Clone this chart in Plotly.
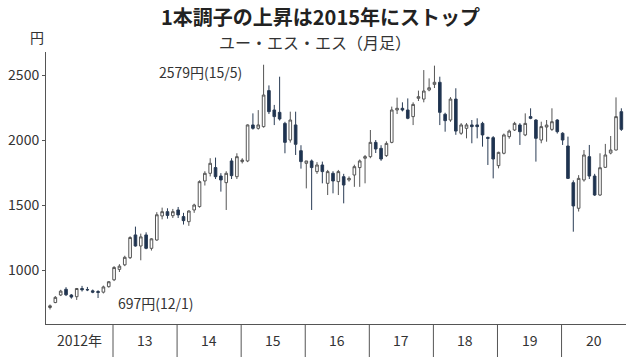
import plotly.graph_objects as go

# Monthly candles, Jan 2012 .. Dec 2020 (index 0 = 2012/1)
opens = [712, 750, 808, 852, 808, 795, 858, 850, 840, 835, 830, 872,
         925, 1005, 1040, 1095, 1270, 1185, 1270, 1167, 1231, 1416, 1449, 1418,
         1462, 1411, 1372, 1462, 1488, 1685, 1744, 1788, 1723, 1672, 1839, 1718,
         1834, 1839, 2116, 2090, 2103, 2380, 2231, 2213, 2128, 2000, 2116, 1918,
         1821, 1839, 1757, 1808, 1667, 1744, 1680, 1718, 1693, 1731, 1788, 1860,
         1872, 1982, 1936, 1880, 1982, 2231, 2244, 2231, 2180, 2321, 2315, 2385,
         2428, 2444, 2198, 2154, 2315, 2052, 2090, 2116, 2116, 2128, 2020, 2018,
         1803, 1898, 2026, 2077, 2116, 2039, 2180, 2154, 2000, 2100, 2082, 2154,
         2052, 1954, 1672, 1475, 1693, 1872, 1723, 1577, 1790, 1900, 1923, 2218]
highs = [735, 800, 848, 868, 815, 862, 878, 870, 850, 845, 880, 915,
         1030, 1045, 1110, 1260, 1334, 1280, 1290, 1245, 1445, 1480, 1475, 1470,
         1485, 1440, 1460, 1510, 1690, 1760, 1860, 1865, 1745, 1760, 1860, 1898,
         1860, 2120, 2205, 2230, 2579, 2420, 2270, 2487, 2140, 2218, 2218, 1960,
         1839, 1850, 1830, 1834, 1770, 1760, 1770, 1740, 1720, 1810, 1850, 1885,
         2077, 2000, 1960, 1990, 2257, 2326, 2290, 2320, 2290, 2380, 2538, 2474,
         2572, 2487, 2210, 2330, 2398, 2130, 2130, 2154, 2167, 2140, 2026, 2030,
         1910, 2050, 2080, 2140, 2130, 2205, 2244, 2160, 2141, 2154, 2244, 2160,
         2060, 2026, 1690, 1730, 1923, 1962, 1740, 1898, 1970, 2031, 2328, 2244]
lows = [697, 745, 800, 800, 780, 770, 835, 838, 822, 785, 820, 865,
        915, 985, 1030, 1085, 1180, 1075, 1160, 1150, 1225, 1390, 1395, 1400,
        1400, 1350, 1340, 1440, 1480, 1650, 1720, 1700, 1603, 1462, 1700, 1700,
        1820, 1830, 2080, 2080, 2095, 2200, 2115, 2150, 1898, 1980, 1885, 1780,
        1628, 1462, 1740, 1667, 1577, 1590, 1577, 1513, 1680, 1640, 1640, 1667,
        1860, 1900, 1840, 1870, 1975, 2200, 2220, 2160, 2115, 2300, 2290, 2375,
        2400, 2115, 2064, 2140, 2040, 2040, 2013, 1975, 2013, 1949, 1808, 1705,
        1782, 1890, 2010, 2070, 1962, 2030, 2160, 1834, 1975, 1987, 2070, 2050,
        1962, 1700, 1295, 1450, 1680, 1700, 1570, 1570, 1785, 1890, 1920, 2070]
closes = [725, 790, 838, 810, 792, 858, 848, 848, 830, 828, 870, 910,
          1020, 1030, 1098, 1250, 1185, 1255, 1167, 1240, 1425, 1449, 1420, 1449,
          1424, 1380, 1454, 1500, 1680, 1744, 1821, 1718, 1693, 1744, 1726, 1872,
          1846, 2116, 2090, 2116, 2346, 2218, 2180, 2162, 1982, 2154, 1967, 1834,
          1839, 1788, 1808, 1757, 1757, 1685, 1757, 1654, 1705, 1795, 1839, 1872,
          1982, 1931, 1854, 1974, 2231, 2244, 2231, 2167, 2274, 2333, 2377, 2402,
          2444, 2213, 2149, 2315, 2069, 2116, 2116, 2103, 2103, 2039, 2013, 1854,
          1905, 2039, 2069, 2128, 2064, 2128, 2167, 2013, 2103, 2115, 2141, 2064,
          2000, 1705, 1493, 1705, 1885, 1723, 1577, 1787, 1885, 1923, 2180, 2082]

year_labels = ["2012年", "13", "14", "15", "16", "17", "18", "19", "20"]
y_ticks = [1000, 1500, 2000, 2500]

title = "1本調子の上昇は2015年にストップ"
subtitle = "ユー・エス・エス（月足）"
unit = "円"
high_note = "2579円(15/5)"
low_note = "697円(12/1)"

months = list(range(len(opens)))
FONT = "Noto Sans CJK JP"
W, H = 638, 357
ML, MR, MT, MB = 46, 12, 52, 33
PW, PH = W - ML - MR, H - MT - MB

fig = go.Figure()
fig.add_trace(go.Candlestick(
    x=months, open=opens, high=highs, low=lows, close=closes,
    increasing=dict(line=dict(color="#555555", width=1), fillcolor="#ffffff"),
    decreasing=dict(line=dict(color="#2a3c55", width=1), fillcolor="#1b3150"),
    whiskerwidth=0, showlegend=False, hoverinfo="skip",
))

x_left, x_right = -0.75, 107.87
dividers = [11.8 + 12 * k for k in range(8)]
edges = [x_left] + dividers + [x_right]

shapes = [dict(type="line", xref="x", yref="paper", x0=d, x1=d,
               y0=0, y1=-MB / PH, line=dict(color="#555555", width=1))
          for d in dividers]

annotations = []
for k, lab in enumerate(year_labels):
    annotations.append(dict(x=(edges[k] + edges[k + 1]) / 2, y=-16 / PH,
                            xref="x", yref="paper", text=lab, showarrow=False,
                            xanchor="center", yanchor="middle",
                            font=dict(family=FONT, size=14, color="#333333")))


def paper_xy(px, py):
    return (px - ML) / PW, (H - MB - py) / PH


for text, px, py, size, bold, color, anchor in [
    (title, 320, 16, 20, True, "#222222", "center"),
    (subtitle, 315, 42, 16, False, "#333333", "center"),
    (unit, 37, 37, 14, False, "#333333", "center"),
    (high_note, 157, 72, 14, False, "#333333", "left"),
    (low_note, 116, 303, 14, False, "#333333", "left"),
]:
    ax, ay = paper_xy(px, py)
    annotations.append(dict(x=ax, y=ay, xref="paper", yref="paper",
                            text=("<b>%s</b>" % text) if bold else text,
                            showarrow=False, xanchor=anchor, yanchor="middle",
                            font=dict(family=FONT, size=size, color=color)))

fig.update_layout(
    width=W, height=H,
    margin=dict(l=ML, r=MR, t=MT, b=MB, pad=0),
    paper_bgcolor="white", plot_bgcolor="white",
    shapes=shapes, annotations=annotations,
    xaxis=dict(range=[x_left, x_right], showgrid=False, zeroline=False,
               showticklabels=False, ticks="", showline=True, automargin=False,
               linecolor="#555555", linewidth=1, rangeslider=dict(visible=False),
               fixedrange=True),
    yaxis=dict(range=[585, 2677], tickvals=y_ticks, showgrid=False,
               zeroline=False, ticks="outside", ticklen=3, tickcolor="#555555",
               showline=True, linecolor="#555555", linewidth=1, automargin=False,
               tickfont=dict(family=FONT, size=14, color="#333333"),
               fixedrange=True),
)

fig.write_html("out.html", config={"displayModeBar": False},
               post_script="document.body.style.margin='0px';")
